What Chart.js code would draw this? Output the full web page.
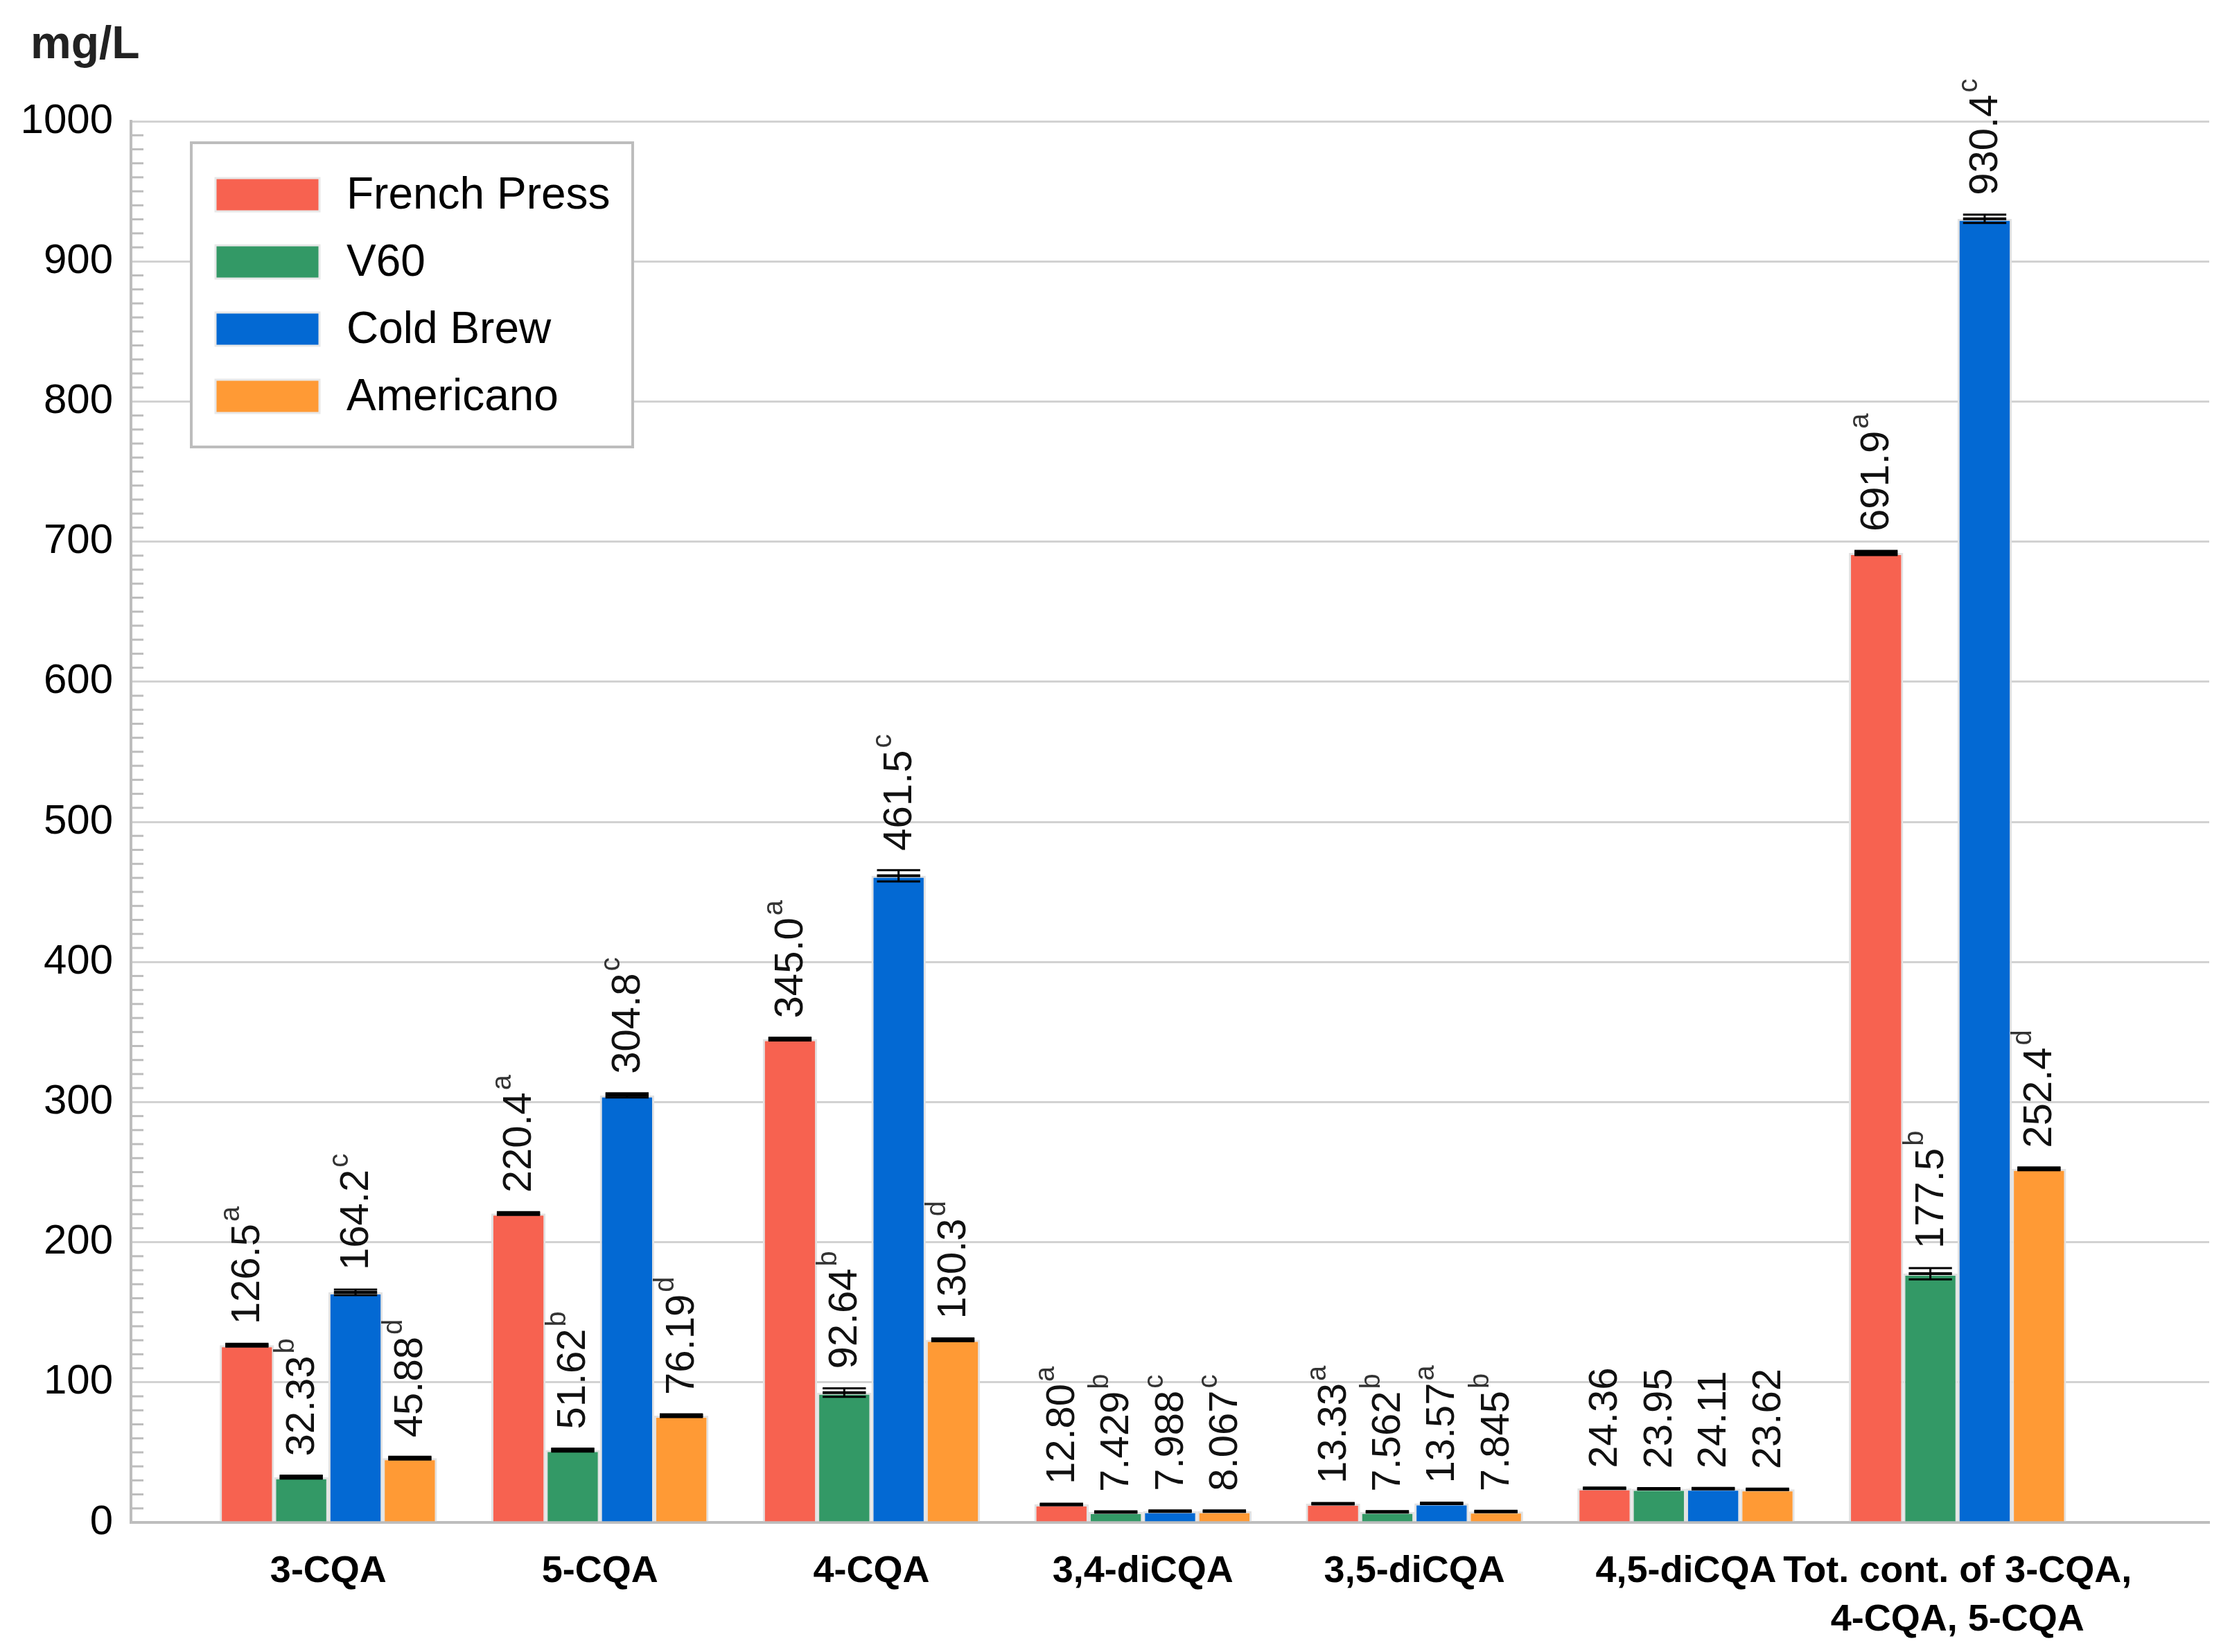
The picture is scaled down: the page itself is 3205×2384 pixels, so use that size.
<!DOCTYPE html>
<html><head><meta charset="utf-8">
<script src="https://cdn.jsdelivr.net/npm/chart.js@4"></script>
<style>html,body{margin:0;padding:0;background:#fff}#w{width:3205px;height:2384px}</style>
</head><body><div id="w"><canvas id="c"></canvas></div>
<script>
const categories = ["3-CQA","5-CQA","4-CQA","3,4-diCQA","3,5-diCQA","4,5-diCQA",["Tot. cont. of 3-CQA,","4-CQA, 5-CQA"]];
const seriesNames = ["French Press","V60","Cold Brew","Americano"];
const frenchPress = [126.5,220.4,345.0,12.80,13.33,24.36,691.9];
const v60 = [32.33,51.62,92.64,7.429,7.562,23.95,177.5];
const coldBrew = [164.2,304.8,461.5,7.988,13.57,24.11,930.4];
const americano = [45.88,76.19,130.3,8.067,7.845,23.62,252.4];
const labelsFP = ["126.5","220.4","345.0","12.80","13.33","24.36","691.9"];
const labelsV60 = ["32.33","51.62","92.64","7.429","7.562","23.95","177.5"];
const labelsCB = ["164.2","304.8","461.5","7.988","13.57","24.11","930.4"];
const labelsAM = ["45.88","76.19","130.3","8.067","7.845","23.62","252.4"];
const lettersFP = ["a","a","a","a","a","","a"];
const lettersV60 = ["b","b","b","b","b","","b"];
const lettersCB = ["c","c","c","c","a","","c"];
const lettersAM = ["d","d","d","c","b","","d"];
const sdFP = [1,1,1,0.5,0.5,0.5,1.5];
const sdV60 = [1,1,3,0.5,0.5,0.5,4];
const sdCB = [2,1.5,4,0.5,0.5,0.5,3];
const sdAM = [1,1,1,0.5,0.5,0.5,1];
const yTicks = [0,100,200,300,400,500,600,700,800,900,1000];
const colors = ["#F76250","#339966","#0369D3","#FF9A35"];

const vals=[frenchPress,v60,coldBrew,americano];
const labs=[labelsFP,labelsV60,labelsCB,labelsAM];
const lets=[lettersFP,lettersV60,lettersCB,lettersAM];
const sds=[sdFP,sdV60,sdCB,sdAM];

const extras={id:'extras',
 afterDatasetsDraw(ch){
  const c=ch.ctx, y=ch.scales.y, a=ch.chartArea;
  c.save(); c.strokeStyle='#bdbdbd'; c.lineWidth=3;
  for(let v=10;v<1000;v+=10){ if(v%100===0) continue; const py=y.getPixelForValue(v); c.beginPath(); c.moveTo(a.left,py); c.lineTo(a.left+18,py); c.stroke(); }
  c.restore();
  ch.data.datasets.forEach((ds,di)=>{
   const meta=ch.getDatasetMeta(di);
   meta.data.forEach((bar,i)=>{
    const v=vals[di][i], sd=sds[di][i];
    const w=bar.width, x=bar.x;
    const pm=y.getPixelForValue(v), pt=y.getPixelForValue(v+sd), pb=y.getPixelForValue(v-sd);
    c.save(); c.strokeStyle='#000';
    c.lineWidth=4; c.beginPath(); c.moveTo(x-w/2+8,pm); c.lineTo(x+w/2-8,pm); c.stroke();
    c.lineWidth=3; c.beginPath();
    c.moveTo(x-w/2+8,pt); c.lineTo(x+w/2-8,pt);
    c.moveTo(x-w/2+8,pb); c.lineTo(x+w/2-8,pb);
    c.moveTo(x,pt); c.lineTo(x,pb); c.stroke();
    c.translate(x,pt-28); c.rotate(-Math.PI/2);
    c.fillStyle='#111'; c.textAlign='left'; c.textBaseline='middle';
    c.font='58px "Liberation Sans", Arial, sans-serif';
    const t=labs[di][i]; c.fillText(t,0,2);
    const tw=c.measureText(t).width;
    if(lets[di][i]){ c.font='40px "Liberation Sans", Arial, sans-serif'; c.fillStyle='#333'; c.fillText(lets[di][i],tw+3,-22); }
    c.restore();
   });
  });
  c.save(); c.fillStyle='#222'; c.font='bold 66px "Liberation Sans", Arial, sans-serif'; c.textBaseline='alphabetic'; c.fillText('mg/L',44,84);
  c.fillStyle='#fff'; c.fillRect(276,206,637,439);
  c.strokeStyle='#bdbdbd'; c.lineWidth=4; c.strokeRect(276,206,637,439);
  seriesNames.forEach((n,k)=>{
   const ty=257+k*97;
   c.fillStyle=colors[k]; c.fillRect(311,ty,150,48);
   c.strokeStyle='#e8e8e8'; c.lineWidth=3; c.strokeRect(311,ty,150,48);
   c.fillStyle='#000'; c.font='64px "Liberation Sans", Arial, sans-serif'; c.textBaseline='middle'; c.fillText(n,500,ty+26);
  });
  c.restore();
 }};

new Chart(document.getElementById('c'),{
 type:'bar',
 data:{datasets:seriesNames.map((n,k)=>({label:n,data:vals[k].map((v,i)=>({x:i,y:v})),backgroundColor:colors[k],borderColor:'#e2e2e2',borderWidth:3,barPercentage:1,categoryPercentage:0.8}))},
 options:{responsive:true,maintainAspectRatio:false,devicePixelRatio:1,animation:false,
  layout:{padding:{left:0,top:175,right:17,bottom:0}},
  plugins:{legend:{display:false},tooltip:{enabled:false}},
  scales:{
   x:{type:'linear',min:-0.727,max:6.927,offset:false,
     grid:{display:false,drawTicks:false,offset:false},border:{color:'#bdbdbd',width:4},
     afterFit(s){s.height=2384-2197;},
     afterBuildTicks(s){s.ticks=categories.map((c,i)=>({value:i}));},
     ticks:{autoSkip:false,maxRotation:0,padding:36,color:'#000',font:{family:'"Liberation Sans", Arial, sans-serif',size:54,weight:'bold',lineHeight:1.3},callback:(v)=>categories[v]}},
   y:{min:0,max:1000,
     afterFit(s){s.width=189;},
     afterBuildTicks(s){s.ticks=yTicks.map(v=>({value:v}));},
     grid:{color:'#d2d2d2',lineWidth:3,drawTicks:false},border:{color:'#bdbdbd',width:4},
     ticks:{padding:26,color:'#000',font:{family:'"Liberation Sans", Arial, sans-serif',size:60},callback:(v)=>String(v)}}
  }},
 plugins:[extras]
});
</script></body></html>
